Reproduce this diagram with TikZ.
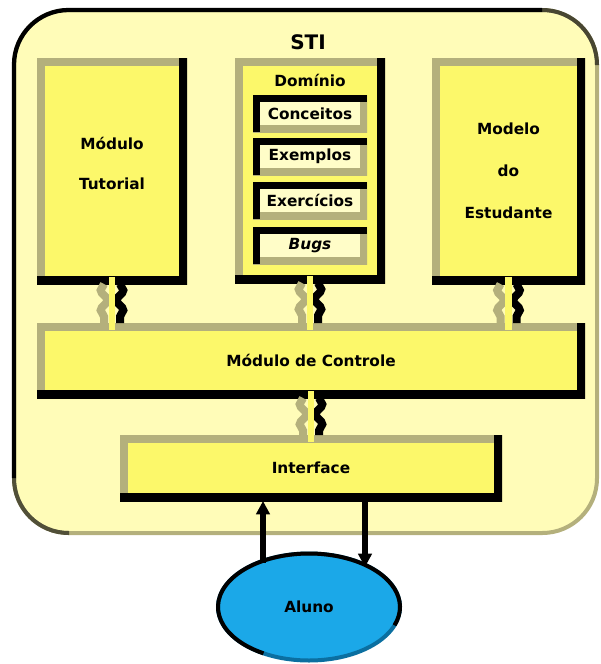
\documentclass[tikz,border=0pt]{standalone}
\usepackage{fontspec}
\setmainfont{DejaVu Sans}
\usetikzlibrary{calc,arrows.meta,decorations.pathmorphing,shapes.geometric}
\definecolor{pale}{HTML}{FFFCB8}
\definecolor{boxy}{HTML}{FCF86A}
\definecolor{bevel}{HTML}{B4B07C}
\definecolor{subfill}{HTML}{FFFDC8}
\definecolor{alunoblue}{HTML}{1BA8E8}
\definecolor{alunoedge}{HTML}{0B6FA0}
\newcommand\boltlink[2]{%
  \draw[boltside, draw=bevel, decoration={mirror}] ($(#1)+(-8,0)$) -- ($(#1 |- #2)+(-8,0)$);
  \draw[boltside, draw=black] ($(#1)+(8,0)$) -- ($(#1 |- #2)+(8,0)$);
  \draw[draw=boxy, line width=5pt] ($(#1)+(0,-7)$) -- ($(#1 |- #2)+(0,7)$);
}
\begin{document}
\begin{tikzpicture}[x=0.75pt,y=-0.75pt,
  txt/.style={font=\bfseries\fontsize{11.5}{30}\selectfont, align=center, inner sep=0pt},
  raised/.style={fill=boxy, draw=none, inner sep=0pt, outer sep=0pt,
    font=\bfseries\fontsize{11.5}{31.5}\selectfont, align=center,
    path picture={
      \draw[bevel, line width=12pt] (path picture bounding box.south west) -- (path picture bounding box.north west) -- (path picture bounding box.north east);
      \draw[black, line width=12pt] (path picture bounding box.north east) -- (path picture bounding box.south east) -- (path picture bounding box.south west);}},
  sunken/.style={fill=subfill, draw=none, inner sep=0pt, outer sep=0pt,
    minimum width=85.5pt, minimum height=27.75pt,
    font=\bfseries\fontsize{11.5}{14}\selectfont,
    path picture={
      \draw[bevel, line width=11pt] (path picture bounding box.north east) -- (path picture bounding box.south east) -- (path picture bounding box.south west);
      \draw[black, line width=11pt] (path picture bounding box.south west) -- (path picture bounding box.north west) -- (path picture bounding box.north east);}},
  boltside/.style={line width=6pt, decorate, decoration={snake, segment length=15pt, amplitude=2.5pt}},
  bigarrow/.style={line width=5pt, black, -{Triangle[length=10pt,width=10pt]}}
]
\useasboundingbox (0,0) rectangle (600,664);

% outer STI frame
\node[rounded corners=41pt, fill=pale, draw=bevel, line width=3pt,
      minimum width=437.25pt, minimum height=392.25pt, inner sep=0pt] (sti) at (305.5,271.5) {};
\draw[black!55!bevel, line width=3pt, rounded corners=41pt] (14,478) -- (14,533) -- (69,533);
\draw[black!60!bevel, line width=3pt, rounded corners=41pt] (542,10) -- (597,10) -- (597,65);
\draw[black, line width=3.2pt, rounded corners=41pt] (14,478) -- (14,10) -- (542,10);
\node[font=\bfseries\fontsize{15}{18}\selectfont, inner sep=0pt] (stil) at (308,42) {STI};

% top modules
\node[raised, minimum width=112.5pt, minimum height=169.5pt] (tut) at (112,171) {};
\node[txt] (tutl) at (112,163) {Módulo\\Tutorial};

\node[raised, minimum width=112.5pt, minimum height=168.75pt] (dom) at (310,170.5) {};
\node[txt] (doml) at (310,80) {Domínio};
\node[sunken] (c1) at (310,113.5) {Conceitos};
\node[sunken] (c2) at (310,156.5) {Exemplos};
\node[sunken] (c3) at (310,200.5) {Exercícios};
\node[sunken] (c4) at (310,245.5) {\itshape Bugs};

\node[raised, minimum width=114.75pt, minimum height=169.5pt] (mod) at (508.5,171) {Modelo\\do\\Estudante};

% control and interface
\node[raised, minimum width=411pt, minimum height=56.25pt] (ctrl) at (311,360.5) {Módulo de Controle};
\node[raised, minimum width=286.5pt, minimum height=49.5pt] (intf) at (311,468) {Interface};

% bolts
\boltlink{tut.south}{ctrl.north}
\boltlink{dom.south}{ctrl.north}
\boltlink{mod.south}{ctrl.north}
\boltlink{ctrl.south}{intf.north}

% aluno
\path (309,607) ++(-46,-44) coordinate (alL);
\path (309,607) ++(56,-40) coordinate (alR);
\node[ellipse, fill=alunoblue, draw=alunoedge, line width=3pt, inner sep=0pt,
      minimum width=136.5pt, minimum height=80.25pt,
      font=\bfseries\fontsize{11.5}{14}\selectfont] (aluno) at (309,607) {Aluno};
\draw[bigarrow] (alL) -- (alL |- intf.south);
\draw[bigarrow] (alR |- intf.south) -- (alR);
\draw[black, line width=3pt] (aluno.center) ++(120:91 and 53.5)
   arc[start angle=120, end angle=380, x radius=91, y radius=53.5];
\end{tikzpicture}
\end{document}
